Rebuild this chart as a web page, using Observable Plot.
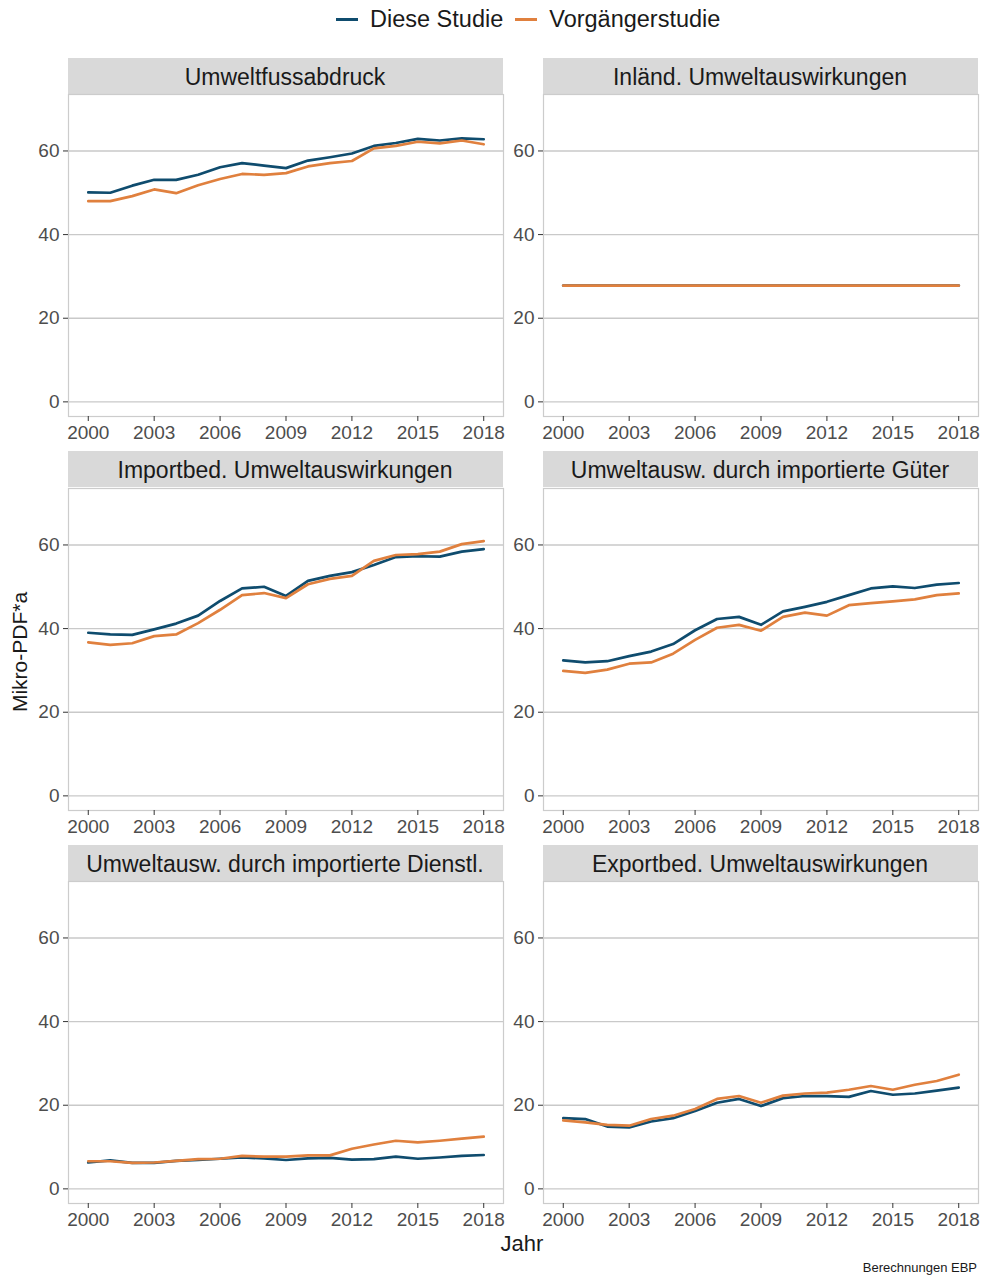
<!DOCTYPE html>
<html>
<head>
<meta charset="utf-8">
<script src="https://cdn.jsdelivr.net/npm/d3@7"></script>
<script src="https://cdn.jsdelivr.net/npm/@observablehq/plot@0.6"></script>
<style>
  html, body { margin: 0; padding: 0; background: #fff; }
  #root { position: relative; width: 984px; height: 1279px; font-family: "Liberation Sans", Arial, sans-serif; color: #1a1a1a; overflow: hidden; }
  .strip { position: absolute; background: #d9d9d9; text-align: center; font-size: 23px; color: #1a1a1a; white-space: nowrap; }
  .panel { position: absolute; }
  .legend { position: absolute; top: 5px; left: 336px; font-size: 23.5px; line-height: 28px; white-space: nowrap; display: flex; align-items: center; }
  .legend span.item { display: inline-flex; align-items: center; margin-right: 12px; }
  .legend span.key { display: inline-block; width: 22px; height: 3px; margin-right: 12px; }
  .ytitle { position: absolute; left: 20px; top: 652px; transform: translate(-50%, -50%) rotate(-90deg); font-size: 21px; white-space: nowrap; }
  .xtitle { position: absolute; top: 1231px; left: 522px; transform: translateX(-50%); font-size: 22px; }
  .caption { position: absolute; right: 7px; top: 1260px; font-size: 13px; }
</style>
</head>
<body>
<div id="root"></div>
<script>
// ---------- data ----------
const years = [2000, 2001, 2002, 2003, 2004, 2005, 2006, 2007, 2008, 2009, 2010, 2011, 2012, 2013, 2014, 2015, 2016, 2017, 2018];
const seriesNames = ["Diese Studie", "Vorgängerstudie"];
const seriesColors = ["#0f4c6e", "#e0803e"];
const panelTitles = [
  "Umweltfussabdruck",
  "Inländ. Umweltauswirkungen",
  "Importbed. Umweltauswirkungen",
  "Umweltausw. durch importierte Güter",
  "Umweltausw. durch importierte Dienstl.",
  "Exportbed. Umweltauswirkungen"
];
const xTicks = [2000, 2003, 2006, 2009, 2012, 2015, 2018];
const yTicks = [0, 20, 40, 60];

const fussabdruckDiese = [50.1, 50.0, 51.7, 53.1, 53.1, 54.3, 56.1, 57.1, 56.5, 55.9, 57.7, 58.5, 59.4, 61.2, 61.9, 62.9, 62.5, 63.0, 62.8];
const fussabdruckVorg  = [48.0, 48.0, 49.2, 50.8, 49.9, 51.8, 53.3, 54.5, 54.3, 54.7, 56.3, 57.1, 57.6, 60.6, 61.2, 62.2, 61.8, 62.5, 61.6];

const inlandDiese = [27.8, 27.8, 27.8, 27.8, 27.8, 27.8, 27.8, 27.8, 27.8, 27.8, 27.8, 27.8, 27.8, 27.8, 27.8, 27.8, 27.8, 27.8, 27.8];
const inlandVorg  = [27.8, 27.8, 27.8, 27.8, 27.8, 27.8, 27.8, 27.8, 27.8, 27.8, 27.8, 27.8, 27.8, 27.8, 27.8, 27.8, 27.8, 27.8, 27.8];

const importDiese = [39.0, 38.6, 38.5, 39.8, 41.2, 43.1, 46.6, 49.6, 50.0, 47.8, 51.4, 52.6, 53.5, 55.2, 57.1, 57.3, 57.2, 58.4, 59.0];
const importVorg  = [36.7, 36.1, 36.5, 38.2, 38.6, 41.3, 44.5, 48.0, 48.5, 47.3, 50.6, 51.9, 52.6, 56.2, 57.6, 57.8, 58.4, 60.2, 60.9];

const gueterDiese = [32.4, 31.9, 32.2, 33.4, 34.5, 36.3, 39.6, 42.3, 42.8, 40.9, 44.1, 45.2, 46.4, 48.0, 49.6, 50.1, 49.7, 50.5, 50.9];
const gueterVorg  = [29.9, 29.4, 30.2, 31.6, 31.9, 34.0, 37.3, 40.2, 40.9, 39.5, 42.8, 43.8, 43.1, 45.6, 46.1, 46.5, 47.0, 48.0, 48.4];

const dienstlDiese = [6.3, 6.8, 6.2, 6.2, 6.7, 6.9, 7.2, 7.5, 7.3, 6.9, 7.3, 7.4, 7.0, 7.1, 7.7, 7.2, 7.5, 7.9, 8.1];
const dienstlVorg  = [6.6, 6.6, 6.2, 6.3, 6.7, 7.1, 7.2, 7.9, 7.7, 7.7, 8.0, 8.0, 9.6, 10.6, 11.5, 11.1, 11.5, 12.0, 12.5];

const exportDiese = [16.9, 16.7, 14.9, 14.7, 16.1, 16.9, 18.6, 20.6, 21.5, 19.8, 21.7, 22.2, 22.2, 22.0, 23.4, 22.5, 22.8, 23.5, 24.2];
const exportVorg  = [16.4, 15.9, 15.3, 15.1, 16.7, 17.5, 19.1, 21.5, 22.2, 20.6, 22.3, 22.8, 23.0, 23.7, 24.6, 23.7, 24.9, 25.8, 27.3];

const panelSeries = [
  [fussabdruckDiese, fussabdruckVorg],
  [inlandDiese, inlandVorg],
  [importDiese, importVorg],
  [gueterDiese, gueterVorg],
  [dienstlDiese, dienstlVorg],
  [exportDiese, exportVorg]
];

// ---------- layout ----------
const root = document.getElementById("root");
const colLeft = [67.5, 542.5];
const rowTop = [94, 487.5, 881];
const panelW = 435, panelH = 322, stripH = 36;
const mL = 40, mR = 12, mT = 1, mB = 34;
const font = '"Liberation Sans", Arial, sans-serif';

// legend
const legend = document.createElement("div");
legend.className = "legend";
seriesNames.forEach((n, i) => {
  const it = document.createElement("span");
  it.className = "item";
  const k = document.createElement("span");
  k.className = "key";
  k.style.background = seriesColors[i];
  it.appendChild(k);
  it.appendChild(document.createTextNode(n));
  legend.appendChild(it);
});
root.appendChild(legend);

panelTitles.forEach((title, p) => {
  const col = p % 2, row = Math.floor(p / 2);
  const left = colLeft[col], top = rowTop[row];

  const strip = document.createElement("div");
  strip.className = "strip";
  strip.style.left = left + "px";
  strip.style.top = (top - stripH - 0.5) + "px";
  strip.style.width = panelW + "px";
  strip.style.height = stripH + "px";
  strip.style.lineHeight = (stripH + 2) + "px";
  strip.textContent = title;
  root.appendChild(strip);

  const data = [];
  panelSeries[p].forEach((vals, s) => {
    vals.forEach((v, i) => data.push({year: years[i], value: v, series: seriesNames[s]}));
  });

  const chart = Plot.plot({
    width: mL + panelW + mR,
    height: mT + panelH + mB,
    marginLeft: mL, marginRight: mR, marginTop: mT, marginBottom: mB,
    style: {fontFamily: font, fontSize: "19px", color: "#4d4d4d", background: "transparent", overflow: "visible"},
    x: {domain: [1999.1, 2018.9]},
    y: {domain: [-3.5, 73.5]},
    color: {domain: seriesNames, range: seriesColors},
    marks: [
      Plot.ruleY(yTicks, {stroke: "#c9c9c9", strokeWidth: 1.4}),
      Plot.frame({stroke: "#cccccc", strokeWidth: 1.2}),
      Plot.axisX({ticks: xTicks, tickFormat: d => String(d), tickSize: 5, tickPadding: 4, label: null, stroke: "#333", fill: "#4d4d4d"}),
      Plot.axisY({ticks: yTicks, tickSize: 5, tickPadding: 4, label: null, stroke: "#333", fill: "#4d4d4d"}),
      Plot.line(data, {x: "year", y: "value", z: "series", stroke: "series", strokeWidth: 2.7, strokeLinejoin: "round"})
    ]
  });
  chart.classList.add("panel");
  chart.style.left = (left - mL) + "px";
  chart.style.top = (top - mT) + "px";
  root.appendChild(chart);
});

const yt = document.createElement("div");
yt.className = "ytitle";
yt.textContent = "Mikro-PDF*a";
root.appendChild(yt);

const xt = document.createElement("div");
xt.className = "xtitle";
xt.textContent = "Jahr";
root.appendChild(xt);

const cap = document.createElement("div");
cap.className = "caption";
cap.textContent = "Berechnungen EBP";
root.appendChild(cap);
</script>
</body>
</html>
